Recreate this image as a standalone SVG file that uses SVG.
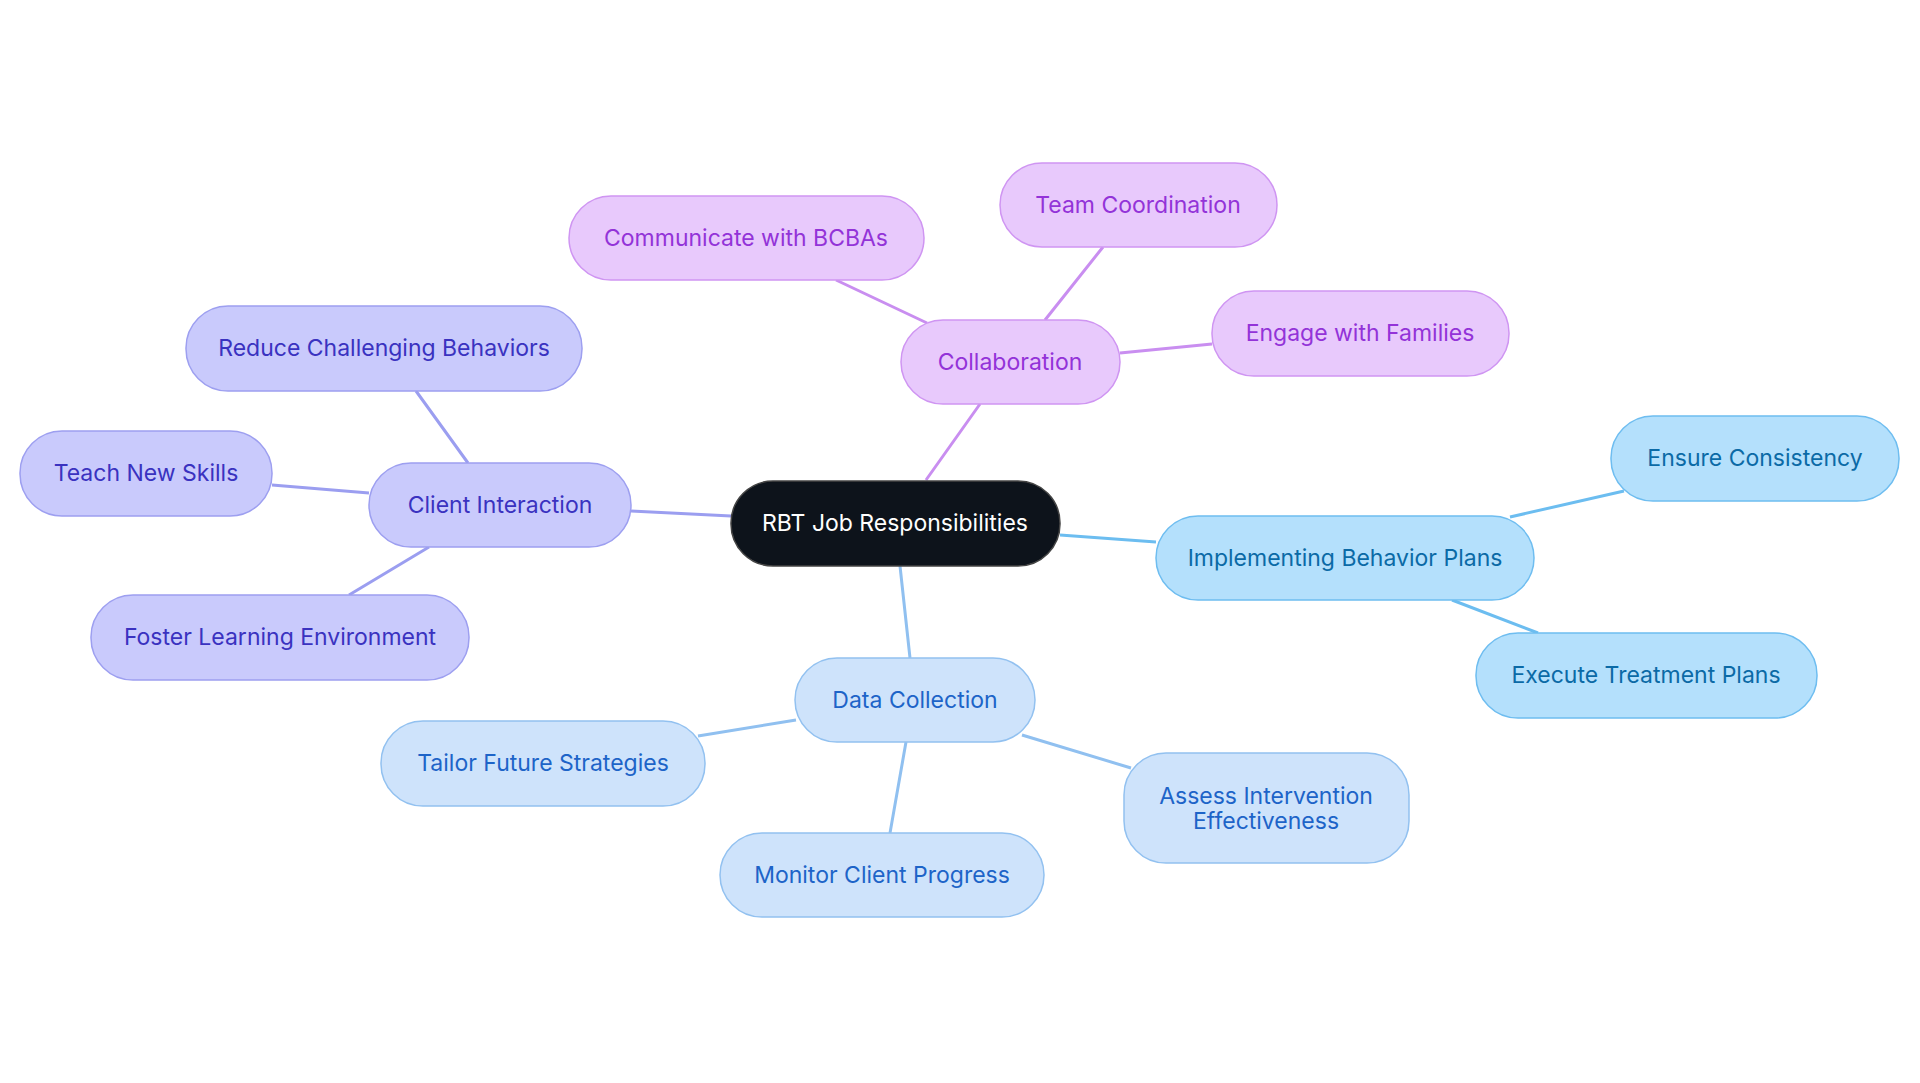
<svg xmlns="http://www.w3.org/2000/svg" width="1920" height="1083" viewBox="0 0 1920 1083">
<style>
text{font-family:Inter,"Open Sans","Liberation Sans",sans-serif;font-size:23px;text-anchor:middle;dominant-baseline:central}
.l{fill:none;stroke-width:3}
.p rect{fill:#e8c9fc;stroke:#cf95f2;stroke-width:1.5}.p text{fill:#9333d8}
.v rect{fill:#c9cafc;stroke:#9d9ff0;stroke-width:1.5}.v text{fill:#3a32c0}
.b rect{fill:#b4e0fc;stroke:#6ebdf0;stroke-width:1.5}.b text{fill:#0b6aa6}
.d rect{fill:#cee3fb;stroke:#92c1f0;stroke-width:1.5}.d text{fill:#1d64c8}
</style>
<rect width="1920" height="1083" fill="#fff"/>
<g id="connectors">
<path class="l" stroke="#c98ef0" d="M926 480L980 404M927 323L836 280M1045 320L1103 247M1120 353L1212 344"/>
<path class="l" stroke="#9b9ef0" d="M731 516L631 511M468 463L416 391M369 493L272 485M429 547L349 595"/>
<path class="l" stroke="#6cbdf0" d="M1060 535L1156 542M1510 517L1624 491M1452 600L1538 633"/>
<path class="l" stroke="#90c0f0" d="M900 566L910 658M796 720L698 736M906 742L890 833M1022 735L1131 768"/>
</g>
<g id="center"><rect x="731" y="481" width="329" height="85" rx="42" fill="#0d131b" stroke="#444" stroke-width="1.5"/><text x="895" y="523" fill="#fff">RBT Job Responsibilities</text></g>
<g id="collab" class="p"><rect x="901" y="320" width="219" height="84" rx="42"/><text x="1010" y="362">Collaboration</text></g>
<g id="comm" class="p"><rect x="569" y="196" width="355" height="84" rx="42"/><text x="746" y="238">Communicate with BCBAs</text></g>
<g id="team" class="p"><rect x="1000" y="163" width="277" height="84" rx="42"/><text x="1138" y="205">Team Coordination</text></g>
<g id="engage" class="p"><rect x="1212" y="291" width="297" height="85" rx="42"/><text x="1360" y="333">Engage with Families</text></g>
<g id="client" class="v"><rect x="369" y="463" width="262" height="84" rx="42"/><text x="500" y="505">Client Interaction</text></g>
<g id="reduce" class="v"><rect x="186" y="306" width="396" height="85" rx="42"/><text x="384" y="348">Reduce Challenging Behaviors</text></g>
<g id="teach" class="v"><rect x="20" y="431" width="252" height="85" rx="42"/><text x="146" y="473">Teach New Skills</text></g>
<g id="foster" class="v"><rect x="91" y="595" width="378" height="85" rx="42"/><text x="280" y="637">Foster Learning Environment</text></g>
<g id="impl" class="b"><rect x="1156" y="516" width="378" height="84" rx="42"/><text x="1345" y="558">Implementing Behavior Plans</text></g>
<g id="ensure" class="b"><rect x="1611" y="416" width="288" height="85" rx="42"/><text x="1755" y="458">Ensure Consistency</text></g>
<g id="exec" class="b"><rect x="1476" y="633" width="341" height="85" rx="42"/><text x="1646" y="675">Execute Treatment Plans</text></g>
<g id="data" class="d"><rect x="795" y="658" width="240" height="84" rx="42"/><text x="915" y="700">Data Collection</text></g>
<g id="tailor" class="d"><rect x="381" y="721" width="324" height="85" rx="42"/><text x="543" y="763">Tailor Future Strategies</text></g>
<g id="monitor" class="d"><rect x="720" y="833" width="324" height="84" rx="42"/><text x="882" y="875">Monitor Client Progress</text></g>
<g id="assess" class="d"><rect x="1124" y="753" width="285" height="110" rx="42"/><text x="1266" y="796">Assess Intervention</text><text x="1266" y="821">Effectiveness</text></g>
</svg>
